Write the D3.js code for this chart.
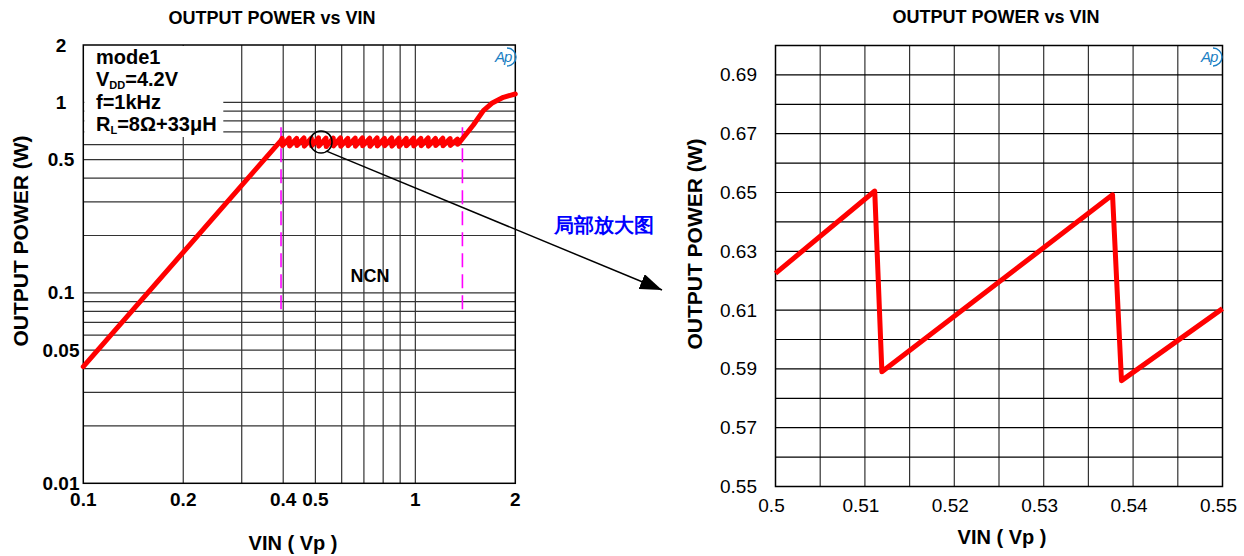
<!DOCTYPE html>
<html>
<head>
<meta charset="utf-8">
<script src="https://cdn.jsdelivr.net/npm/d3@7"></script>
<style>
  body { margin: 0; background: #fff; }
  text { font-family: "Liberation Sans", Arial, sans-serif; }
</style>
</head>
<body>
<div id="chart"></div>
<script>
// ---- data ----
const leftXTicks = [0.1, 0.2, 0.4, 0.5, 1, 2];
const leftYTicks = [0.01, 0.05, 0.1, 0.5, 1, 2];
const leftXGrid = [0.2, 0.3, 0.4, 0.5, 0.6, 0.7, 0.8, 0.9, 1];
const leftYGrid = [0.02, 0.03, 0.04, 0.05, 0.06, 0.07, 0.08, 0.09,
                   0.1, 0.2, 0.3, 0.4, 0.5, 0.6, 0.7, 0.8, 0.9, 1];
// VIN (Vp), output power (W)
const leftCurve = [
  [0.100, 0.041], [0.393, 0.628],
  [0.397, 0.646], [0.398, 0.592], [0.417, 0.649], [0.418, 0.590],
  [0.439, 0.647], [0.440, 0.593], [0.462, 0.650], [0.463, 0.589],
  [0.486, 0.648], [0.487, 0.591], [0.511, 0.650], [0.512, 0.589],
  [0.538, 0.649], [0.539, 0.586], [0.566, 0.648], [0.567, 0.590],
  [0.595, 0.651], [0.596, 0.588], [0.626, 0.647], [0.627, 0.592],
  [0.659, 0.649], [0.660, 0.589], [0.693, 0.650], [0.694, 0.591],
  [0.729, 0.648], [0.730, 0.588], [0.767, 0.651], [0.768, 0.590],
  [0.807, 0.647], [0.808, 0.592], [0.849, 0.650], [0.850, 0.589],
  [0.893, 0.648], [0.894, 0.587], [0.939, 0.646], [0.940, 0.591],
  [0.988, 0.649], [0.989, 0.590], [1.039, 0.647], [1.041, 0.592],
  [1.093, 0.650], [1.095, 0.589], [1.150, 0.646], [1.152, 0.593],
  [1.210, 0.648], [1.212, 0.591], [1.273, 0.645], [1.275, 0.594],
  [1.339, 0.641], [1.341, 0.602], [1.363, 0.621],
  [1.495, 0.760], [1.603, 0.904], [1.699, 0.989], [1.841, 1.063], [2.000, 1.106]
];
const ncnBounds = [0.394, 1.386];
const ncnRange = [0.08, 0.74];
const zoomSpot = [0.52, 0.62];

const rightXTicks = [0.5, 0.51, 0.52, 0.53, 0.54, 0.55];
const rightXGrid = [0.505, 0.51, 0.515, 0.52, 0.525, 0.53, 0.535, 0.54, 0.545];
const rightYTicks = [0.55, 0.57, 0.59, 0.61, 0.63, 0.65, 0.67, 0.69];
const rightYGrid = [0.56, 0.57, 0.58, 0.59, 0.6, 0.61, 0.62, 0.63, 0.64,
                    0.65, 0.66, 0.67, 0.68, 0.69];
const rightCurve = [
  [0.5, 0.6225], [0.5111, 0.6505], [0.5119, 0.589],
  [0.5377, 0.6492], [0.5387, 0.586], [0.55, 0.6105]
];

const legendLines = [
  [["mode1", false]],
  [["V", false], ["DD", true], ["=4.2V", false]],
  [["f=1kHz", false]],
  [["R", false], ["L", true], ["=8\u03A9+33\u03BCH", false]]
];

// ---- svg ----
const W = 1244, H = 556;
const svg = d3.select("#chart").append("svg")
  .attr("width", W).attr("height", H);

const red = "#ff0000";
const gridColor = "#333";

// ---------- left chart ----------
const xL = d3.scaleLog().domain([0.1, 2]).range([83.3, 515.3]);
const yL = d3.scaleLog().domain([0.01, 2]).range([483.3, 45]);

const gL = svg.append("g");

gL.selectAll("line.vg").data(leftXGrid).enter().append("line")
  .attr("x1", d => xL(d)).attr("x2", d => xL(d))
  .attr("y1", yL.range()[1]).attr("y2", yL.range()[0])
  .attr("stroke", gridColor).attr("stroke-width", 1.2);

gL.selectAll("line.hg").data(leftYGrid).enter().append("line")
  .attr("x1", xL.range()[0]).attr("x2", xL.range()[1])
  .attr("y1", d => yL(d)).attr("y2", d => yL(d))
  .attr("stroke", gridColor).attr("stroke-width", 1.2);

// white box under the legend text
gL.append("rect")
  .attr("x", xL(0.1) + 1).attr("y", yL(2) + 1)
  .attr("width", 139).attr("height", 91)
  .attr("fill", "#fff");

gL.append("rect")
  .attr("x", xL(0.1)).attr("y", yL(2))
  .attr("width", xL(2) - xL(0.1)).attr("height", yL(0.01) - yL(2))
  .attr("fill", "none").attr("stroke", "#000").attr("stroke-width", 1.5);

// NCN bounds
gL.selectAll("line.ncn").data(ncnBounds).enter().append("line")
  .attr("x1", d => xL(d)).attr("x2", d => xL(d))
  .attr("y1", yL(ncnRange[1])).attr("y2", yL(ncnRange[0]))
  .attr("stroke", "#ff00ff").attr("stroke-width", 1.6)
  .attr("stroke-dasharray", "14,7");

gL.append("text")
  .attr("x", 370).attr("y", 276)
  .attr("text-anchor", "middle").attr("dominant-baseline", "central")
  .attr("font-size", 18).attr("font-weight", "bold")
  .text("NCN");

const lineL = d3.line().x(d => xL(d[0])).y(d => yL(d[1]));
gL.append("path")
  .datum(leftCurve)
  .attr("d", lineL)
  .attr("fill", "none").attr("stroke", red)
  .attr("stroke-width", 5).attr("stroke-linejoin", "round")
  .attr("stroke-linecap", "round");

// ticks
gL.selectAll("text.xt").data(leftXTicks).enter().append("text")
  .attr("x", d => xL(d)).attr("y", 499)
  .attr("text-anchor", "middle").attr("dominant-baseline", "central")
  .attr("font-size", 19).attr("font-weight", "bold")
  .text(d => d);

gL.selectAll("text.yt").data(leftYTicks).enter().append("text")
  .attr("x", 61).attr("y", d => yL(d))
  .attr("text-anchor", "middle").attr("dominant-baseline", "central")
  .attr("font-size", 19).attr("font-weight", "bold")
  .text(d => d);

// legend
const leg = gL.append("text")
  .attr("font-size", 20).attr("font-weight", "bold");
legendLines.forEach((parts, i) => {
  const t = leg.append("tspan").attr("x", 96).attr("y", 63.5 + i * 22.5);
  let down = false;
  parts.forEach(p => {
    const s = leg.append("tspan").text(p[0]);
    if (p[1]) { s.attr("font-size", 11).attr("dy", 3); down = true; }
    else if (down) { s.attr("dy", -3); down = false; }
    t.node().appendChild(s.node());
  });
});

// titles
gL.append("text")
  .attr("x", 272).attr("y", 18)
  .attr("text-anchor", "middle").attr("dominant-baseline", "central")
  .attr("font-size", 18).attr("font-weight", "bold")
  .text("OUTPUT POWER vs VIN");

gL.append("text")
  .attr("x", 293).attr("y", 543)
  .attr("text-anchor", "middle").attr("dominant-baseline", "central")
  .attr("font-size", 20).attr("font-weight", "bold")
  .text("VIN ( Vp )");

gL.append("text")
  .attr("transform", "translate(20,241) rotate(-90)")
  .attr("text-anchor", "middle").attr("dominant-baseline", "central")
  .attr("font-size", 21).attr("font-weight", "bold")
  .text("OUTPUT POWER (W)");

// ---------- zoom annotation ----------
svg.append("defs").append("marker")
  .attr("id", "arrow")
  .attr("viewBox", "0 0 22 16")
  .attr("refX", 22).attr("refY", 8)
  .attr("markerWidth", 22).attr("markerHeight", 16)
  .attr("markerUnits", "userSpaceOnUse")
  .attr("orient", "auto")
  .append("path").attr("d", "M0,0 L22,8 L0,16 Z").attr("fill", "#000");

const cx = xL(zoomSpot[0]), cy = yL(zoomSpot[1]);
svg.append("circle")
  .attr("cx", cx).attr("cy", cy).attr("r", 11)
  .attr("fill", "none").attr("stroke", "#000").attr("stroke-width", 1.5);

svg.append("line")
  .attr("x1", cx + 6).attr("y1", cy + 9.5)
  .attr("x2", 662).attr("y2", 290)
  .attr("stroke", "#000").attr("stroke-width", 1.5)
  .attr("marker-end", "url(#arrow)");

svg.append("text")
  .attr("x", 604).attr("y", 225)
  .attr("text-anchor", "middle").attr("dominant-baseline", "central")
  .attr("font-family", "'Noto Sans CJK SC', sans-serif")
  .attr("font-size", 20).attr("font-weight", "bold")
  .attr("fill", "#0000ff")
  .text("局部放大图");

// ---------- right chart ----------
const xR = d3.scaleLinear().domain([0.5, 0.55]).range([775.5, 1222.5]);
const yR = d3.scaleLinear().domain([0.55, 0.70]).range([486.5, 45.5]);

const gR = svg.append("g");

gR.selectAll("line.vg").data(rightXGrid).enter().append("line")
  .attr("x1", d => xR(d)).attr("x2", d => xR(d))
  .attr("y1", yR.range()[1]).attr("y2", yR.range()[0])
  .attr("stroke", gridColor).attr("stroke-width", 1.2);

gR.selectAll("line.hg").data(rightYGrid).enter().append("line")
  .attr("x1", xR.range()[0]).attr("x2", xR.range()[1])
  .attr("y1", d => yR(d)).attr("y2", d => yR(d))
  .attr("stroke", "#000").attr("stroke-width", 1.2);

gR.append("rect")
  .attr("x", xR(0.5)).attr("y", yR(0.70))
  .attr("width", xR(0.55) - xR(0.5)).attr("height", yR(0.55) - yR(0.70))
  .attr("fill", "none").attr("stroke", "#000").attr("stroke-width", 1.5);

const lineR = d3.line().x(d => xR(d[0])).y(d => yR(d[1]));
gR.append("path")
  .datum(rightCurve)
  .attr("d", lineR)
  .attr("fill", "none").attr("stroke", red)
  .attr("stroke-width", 5).attr("stroke-linejoin", "round");

gR.selectAll("text.xt").data(rightXTicks).enter().append("text")
  .attr("x", d => xR(d) - 4).attr("y", 505)
  .attr("text-anchor", "middle").attr("dominant-baseline", "central")
  .attr("font-size", 19)
  .text(d => d);

gR.selectAll("text.yt").data(rightYTicks).enter().append("text")
  .attr("x", 757).attr("y", d => yR(d))
  .attr("text-anchor", "end").attr("dominant-baseline", "central")
  .attr("font-size", 19)
  .text(d => d.toFixed(2));

gR.append("text")
  .attr("x", 996).attr("y", 17)
  .attr("text-anchor", "middle").attr("dominant-baseline", "central")
  .attr("font-size", 18).attr("font-weight", "bold")
  .text("OUTPUT POWER vs VIN");

gR.append("text")
  .attr("x", 1002).attr("y", 537)
  .attr("text-anchor", "middle").attr("dominant-baseline", "central")
  .attr("font-size", 20).attr("font-weight", "bold")
  .text("VIN ( Vp )");

gR.append("text")
  .attr("transform", "translate(694,244) rotate(-90)")
  .attr("text-anchor", "middle").attr("dominant-baseline", "central")
  .attr("font-size", 21).attr("font-weight", "bold")
  .text("OUTPUT POWER (W)");

// ---------- Ap logos ----------
function logo(x, y) {
  const g = svg.append("g").attr("transform", `translate(${x},${y})`);
  g.append("text")
    .attr("x", 0).attr("y", 0)
    .attr("font-size", 15).attr("font-style", "italic")
    .attr("letter-spacing", -1)
    .attr("fill", "#1b7fc4")
    .text("Ap");
  g.append("path")
    .attr("d", "M12,-14 A9,9 0 0 1 12,4")
    .attr("fill", "none").attr("stroke", "#1b7fc4").attr("stroke-width", 1.4);
}
logo(495, 62);
logo(1201, 62);
</script>
</body>
</html>
